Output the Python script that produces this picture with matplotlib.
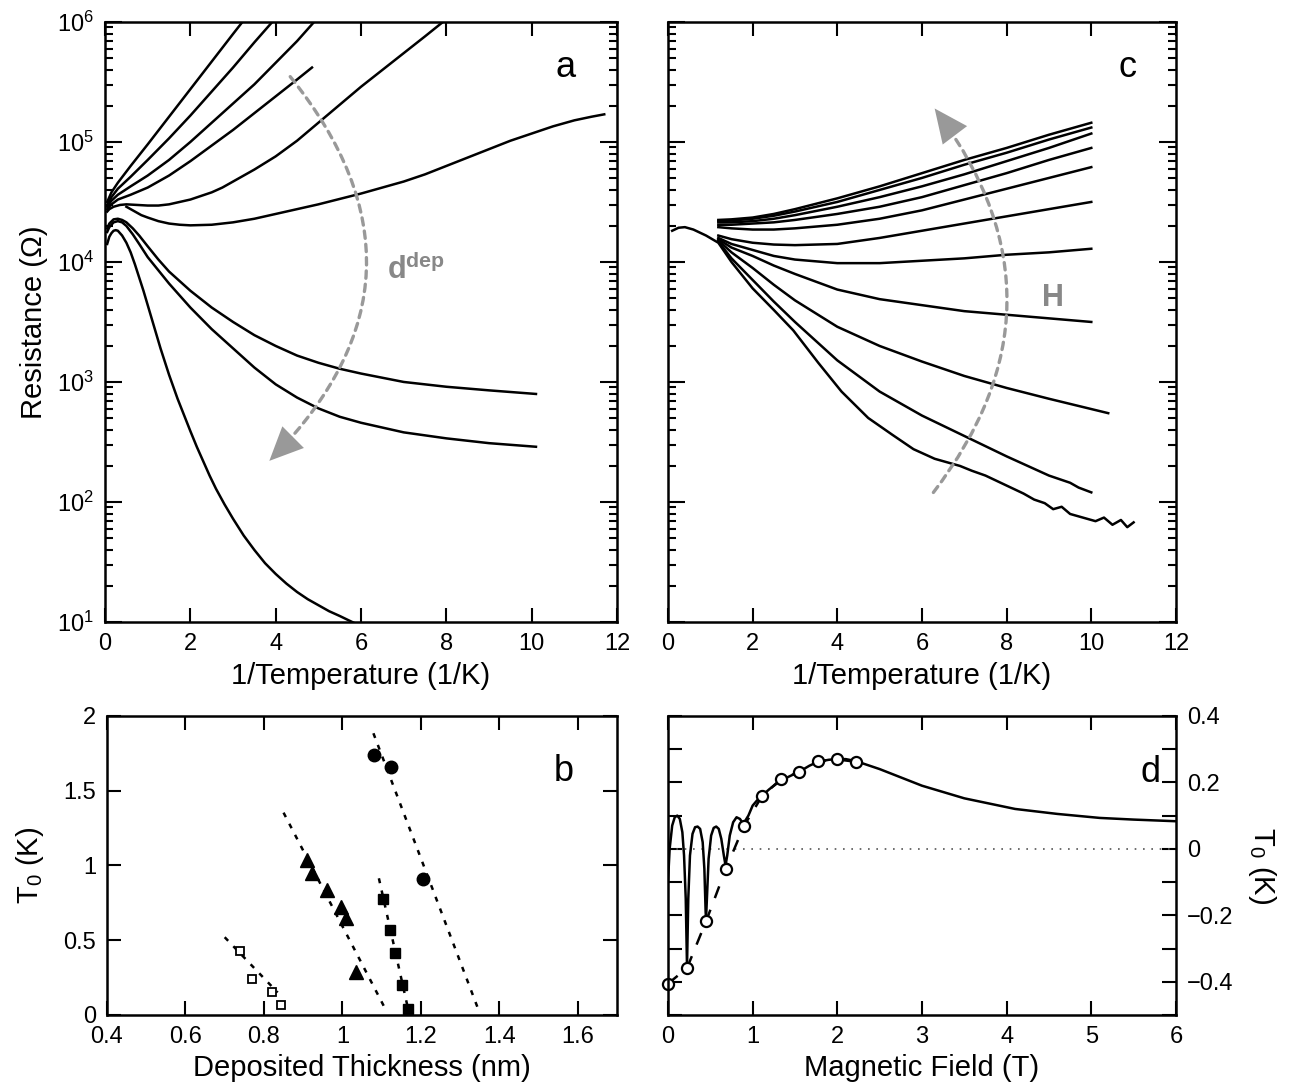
import numpy as np
import matplotlib.pyplot as plt
from matplotlib.ticker import LogLocator, LogFormatterMathtext, NullFormatter, MultipleLocator, FuncFormatter

plt.rcParams['font.family'] = ['Liberation Sans', 'DejaVu Sans']
plt.rcParams['mathtext.fontset'] = 'custom'
plt.rcParams['mathtext.rm'] = 'Liberation Sans'
plt.rcParams['mathtext.bf'] = 'Liberation Sans:bold'

# ---- panel a: R vs 1/T for different deposited thickness (x, log10 R)
a_A_x = [0.05, 0.15, 0.3, 0.6, 1.0, 1.5, 2.0, 2.5, 3.0, 3.22]
a_A_y = [4.50, 4.58, 4.66, 4.80, 4.98, 5.21, 5.44, 5.67, 5.90, 6.0]
a_B_x = [0.05, 0.15, 0.3, 0.6, 1.0, 1.5, 2.0, 2.5, 3.0, 3.5, 3.92]
a_B_y = [4.47, 4.54, 4.61, 4.71, 4.85, 5.03, 5.22, 5.42, 5.62, 5.83, 6.0]
a_C_x = [0.05, 0.15, 0.3, 0.6, 1.0, 1.5, 2.0, 2.5, 3.0, 3.5, 4.0, 4.5, 4.9]
a_C_y = [4.46, 4.51, 4.56, 4.63, 4.72, 4.85, 5.0, 5.16, 5.32, 5.48, 5.66, 5.84, 6.0]
a_D_x = [0.05, 0.15, 0.3, 0.6, 1.0, 1.5, 2.0, 2.5, 3.0, 3.5, 4.0, 4.5, 4.85]
a_D_y = [4.44, 4.48, 4.52, 4.56, 4.62, 4.72, 4.84, 4.97, 5.10, 5.24, 5.38, 5.52, 5.62]
a_E_x = [0.05, 0.1, 0.2, 0.35, 0.5, 0.75, 1.0, 1.25, 1.5, 1.75, 2.0, 2.25, 2.5, 2.75, 3.0, 3.5, 4.0,
         4.5, 5.0, 5.5, 6.0, 6.5, 7.0, 7.5, 7.92]
a_E_y = [4.42, 4.44, 4.46, 4.475, 4.48, 4.475, 4.47, 4.47, 4.48, 4.50, 4.52, 4.55, 4.58, 4.62, 4.67, 4.77, 4.88,
         5.01, 5.16, 5.31, 5.46, 5.60, 5.74, 5.88, 6.0]
a_F_x = [0.5, 0.6, 0.7, 0.85, 1.0, 1.25, 1.5, 1.75, 2.0, 2.5, 3.0, 3.5, 4.0, 4.5, 5.0, 5.5, 6.0, 6.5, 7.0,
         7.5, 8.0, 8.5, 9.0, 9.5, 10.0, 10.5, 11.0, 11.4, 11.7]
a_F_y = [4.46, 4.44, 4.42, 4.39, 4.37, 4.34, 4.32, 4.31, 4.305, 4.31, 4.33, 4.36, 4.40, 4.44, 4.48, 4.525, 4.57,
         4.62, 4.67, 4.73, 4.80, 4.87, 4.94, 5.01, 5.07, 5.13, 5.18, 5.21, 5.23]
a_G_x = [0.05, 0.1, 0.2, 0.3, 0.4, 0.5, 0.65, 0.8, 1.0, 1.25, 1.5, 1.75, 2.0, 2.5, 3.0, 3.5, 4.0, 4.5, 5.0,
         5.5, 6.0, 7.0, 8.0, 9.0, 10.1]
a_G_y = [4.28, 4.32, 4.355, 4.36, 4.35, 4.33, 4.28, 4.22, 4.13, 4.02, 3.92, 3.84, 3.76, 3.62, 3.50, 3.39, 3.30,
         3.22, 3.16, 3.11, 3.07, 3.00, 2.96, 2.93, 2.90]
a_H_x = [0.05, 0.1, 0.2, 0.3, 0.4, 0.5, 0.65, 0.8, 1.0, 1.25, 1.5, 1.75, 2.0, 2.5, 3.0, 3.5, 4.0, 4.5, 5.0,
         5.5, 6.0, 7.0, 8.0, 9.0, 10.1]
a_H_y = [4.25, 4.29, 4.33, 4.34, 4.33, 4.30, 4.23, 4.15, 4.04, 3.93, 3.82, 3.72, 3.62, 3.44, 3.28, 3.12, 2.98,
         2.87, 2.78, 2.71, 2.66, 2.58, 2.53, 2.49, 2.46]
a_J_x = [0.05, 0.1, 0.15, 0.2, 0.25, 0.3, 0.4, 0.5, 0.6, 0.7, 0.8, 0.9, 1.0, 1.1, 1.2, 1.3, 1.4, 1.5, 1.6,
         1.7, 1.8, 1.9, 2.0, 2.15, 2.3, 2.45, 2.6, 2.8, 3.0, 3.25, 3.5, 3.75, 4.0, 4.25, 4.5, 4.75, 5.0,
         5.25, 5.5, 5.85]
a_J_y = [4.15, 4.21, 4.24, 4.26, 4.265, 4.26, 4.22, 4.16, 4.08, 3.98, 3.87, 3.76, 3.64, 3.52, 3.40, 3.28,
         3.17, 3.06, 2.96, 2.86, 2.77, 2.68, 2.59, 2.46, 2.34, 2.22, 2.11, 1.98, 1.86, 1.72, 1.60, 1.49, 1.40,
         1.32, 1.25, 1.19, 1.14, 1.09, 1.05, 0.99]

# ---- panel c: R vs 1/T for different fields (x, log10 R)
c_x = [1.19, 1.5, 2, 2.5, 3, 4, 5, 6, 7, 8, 9, 10]
c_1 = [4.35, 4.355, 4.37, 4.40, 4.44, 4.53, 4.63, 4.74, 4.85, 4.95, 5.06, 5.16]
c_2 = [4.34, 4.345, 4.36, 4.385, 4.42, 4.50, 4.60, 4.70, 4.81, 4.91, 5.02, 5.12]
c_3 = [4.33, 4.33, 4.34, 4.36, 4.39, 4.46, 4.54, 4.63, 4.73, 4.84, 4.95, 5.07]
c_4 = [4.31, 4.31, 4.32, 4.33, 4.35, 4.40, 4.46, 4.54, 4.64, 4.74, 4.85, 4.95]
c_5 = [4.29, 4.28, 4.27, 4.27, 4.28, 4.31, 4.36, 4.43, 4.52, 4.61, 4.70, 4.79]
c_6 = [4.22, 4.19, 4.16, 4.145, 4.14, 4.15, 4.20, 4.26, 4.32, 4.38, 4.44, 4.50]
c_7 = [4.20, 4.15, 4.10, 4.05, 4.02, 3.99, 3.99, 4.01, 4.03, 4.06, 4.08, 4.11]
c_8 = [4.19, 4.12, 4.05, 3.97, 3.90, 3.77, 3.69, 3.64, 3.59, 3.56, 3.53, 3.50]
c_9_x = [1.19, 1.5, 2, 2.5, 3, 4, 5, 6, 7, 8, 9, 10.4]
c_9 = [4.18, 4.08, 3.95, 3.81, 3.68, 3.46, 3.30, 3.17, 3.05, 2.95, 2.86, 2.74]
c_10_x = [1.19, 1.5, 2, 2.5, 3, 3.5, 4, 5, 6, 7, 8, 9, 9.5, 9.7, 9.85, 10.0]
c_10 = [4.17, 4.03, 3.85, 3.67, 3.50, 3.34, 3.18, 2.92, 2.72, 2.55, 2.38, 2.22, 2.16, 2.12, 2.10, 2.08]
c_0_x = [0.1, 0.25, 0.4, 0.6, 0.9, 1.19, 1.5, 2.0, 2.5, 2.96, 3.55, 4.1, 4.73, 5.3, 5.8, 6.3, 6.6, 6.9,
         7.18, 7.5, 7.8, 8.1, 8.4, 8.65, 8.9, 9.1, 9.3, 9.5, 9.7, 9.9, 10.1, 10.3, 10.5, 10.7, 10.85, 11.0]
c_0 = [4.26, 4.285, 4.29, 4.27, 4.22, 4.16, 4.00, 3.78, 3.60, 3.43, 3.16, 2.92, 2.70, 2.56, 2.44, 2.36, 2.33, 2.30,
       2.26, 2.22, 2.17, 2.12, 2.07, 2.02, 1.99, 1.94, 1.96, 1.90, 1.88, 1.86, 1.84, 1.87, 1.81, 1.85, 1.79, 1.83]

# ---- panel b: T0 vs deposited thickness
b_circ_x = [1.08, 1.125, 1.205]
b_circ_y = [1.74, 1.66, 0.91]
b_tri_x = [0.909, 0.922, 0.962, 0.996, 1.010, 1.034]
b_tri_y = [1.037, 0.948, 0.836, 0.720, 0.651, 0.290]
b_sq_x = [1.104, 1.122, 1.135, 1.153, 1.166]
b_sq_y = [0.776, 0.569, 0.417, 0.200, 0.038]
b_osq_x = [0.740, 0.770, 0.821, 0.843]
b_osq_y = [0.428, 0.239, 0.156, 0.067]
b_fit_circ = ([1.079, 1.347], [1.884, 0.033])
b_fit_tri = ([0.85, 1.113], [1.353, 0.022])
b_fit_sq = ([1.093, 1.169], [0.914, 0.022])
b_fit_osq = ([0.70, 0.835], [0.52, 0.15])

# ---- panel d: T0 vs magnetic field
d_H = [0.0, 0.225, 0.453, 0.681, 0.898, 1.11, 1.33, 1.55, 1.77, 2.0, 2.22]
d_T0 = [-0.406, -0.359, -0.216, -0.062, 0.069, 0.158, 0.209, 0.231, 0.264, 0.269, 0.262]
d_line_H = [0.0, 0.02, 0.05, 0.08, 0.11, 0.14, 0.17, 0.19, 0.21, 0.225, 0.24, 0.26, 0.29, 0.32, 0.35, 0.38,
            0.41, 0.43, 0.445, 0.45, 0.46, 0.48, 0.51, 0.54, 0.57, 0.60, 0.63, 0.66, 0.68, 0.70, 0.73, 0.77,
            0.81, 0.85, 0.89, 0.95, 1.0, 1.05, 1.11, 1.2, 1.33, 1.45, 1.55, 1.67, 1.77, 1.9, 2.0, 2.1, 2.22,
            2.5, 3.0, 3.5, 4.1, 4.6, 5.1, 5.5, 6.0]
d_line_T = [-0.10, 0.0, 0.07, 0.095, 0.10, 0.09, 0.05, -0.02, -0.15, -0.355, -0.15, -0.02, 0.045, 0.065, 0.067, 0.06,
            0.02, -0.06, -0.19, -0.21, -0.15, -0.03, 0.04, 0.063, 0.067, 0.06, 0.03, -0.02, -0.05, -0.02, 0.04, 0.08,
            0.095, 0.09, 0.075, 0.10, 0.13, 0.145, 0.16, 0.18, 0.205, 0.22, 0.232, 0.25, 0.262, 0.268, 0.27, 0.27, 0.264,
            0.24, 0.19, 0.152, 0.12, 0.105, 0.093, 0.088, 0.083]

fig = plt.figure(figsize=(12.89, 10.91), dpi=100)
ax_a = fig.add_axes([0.0815, 0.4299, 0.3972, 0.5500])
ax_c = fig.add_axes([0.5182, 0.4299, 0.3941, 0.5500])
ax_b = fig.add_axes([0.0830, 0.0697, 0.3957, 0.2741])
ax_d = fig.add_axes([0.5182, 0.0697, 0.3941, 0.2741])

TICK_FS = 17
LABEL_FS = 21
GRAY = '#999999'


def num_fmt(v, pos):
    if abs(v) < 1e-9:
        return '0'
    return ('%g' % round(v, 3)).replace('-', '\u2212')


def style(ax):
    for s in ax.spines.values():
        s.set_linewidth(1.8)
    ax.tick_params(which='both', direction='in', top=True, right=True, labelsize=TICK_FS, width=1.5)
    ax.tick_params(which='major', length=10, pad=8)
    ax.tick_params(which='minor', length=5)


def log_axis(ax):
    ax.set_yscale('log')
    ax.set_ylim(10, 1e6)
    ax.set_xlim(0, 12)
    ax.xaxis.set_major_locator(MultipleLocator(2))
    ax.yaxis.set_major_locator(LogLocator(base=10, numticks=10))
    ax.yaxis.set_minor_locator(LogLocator(base=10, subs=np.arange(2, 10), numticks=20))
    style(ax)
    ax.tick_params(which='minor', length=6)
    ax.tick_params(axis='y', which='major', length=12)


def dashed_arrow(ax, start, end, rad):
    conn = 'arc3,rad=%g' % rad
    ax.annotate('', xy=end, xytext=start,
                arrowprops=dict(arrowstyle='-', color=GRAY, lw=2.4, linestyle=(0, (2.2, 1.8)),
                                connectionstyle=conn, shrinkA=0, shrinkB=6))
    ax.annotate('', xy=end, xytext=start,
                arrowprops=dict(arrowstyle='-|>,head_length=1.1,head_width=0.5', color=GRAY, lw=0,
                                connectionstyle=conn, shrinkA=0, shrinkB=0, mutation_scale=22))


# panel a
log_axis(ax_a)
for xs, ys in [(a_A_x, a_A_y), (a_B_x, a_B_y), (a_C_x, a_C_y), (a_D_x, a_D_y), (a_E_x, a_E_y),
               (a_F_x, a_F_y), (a_G_x, a_G_y), (a_H_x, a_H_y), (a_J_x, a_J_y)]:
    ax_a.plot(xs, 10 ** np.array(ys), color='black', lw=1.8)
ax_a.yaxis.set_major_formatter(LogFormatterMathtext())
ax_a.set_xlabel('1/Temperature (1/K)', fontsize=LABEL_FS, labelpad=5)
ax_a.set_ylabel('Resistance (Ω)', fontsize=LABEL_FS, labelpad=6)
dashed_arrow(ax_a, (4.34, 3.5e5), (3.85, 2.2e2), -0.45)
ax_a.text(6.6, 8.5e3, r'$\mathbf{d}^{\mathbf{dep}}$', color='#888888', fontsize=22,
          ha='left', va='center')
ax_a.text(10.8, 4.2e5, 'a', fontsize=26, ha='center', va='center')

# panel c
log_axis(ax_c)
for ys in [c_1, c_2, c_3, c_4, c_5, c_6, c_7, c_8]:
    ax_c.plot(c_x, 10 ** np.array(ys), color='black', lw=1.8)
ax_c.plot(c_9_x, 10 ** np.array(c_9), color='black', lw=1.8)
ax_c.plot(c_10_x, 10 ** np.array(c_10), color='black', lw=1.8)
ax_c.plot(c_0_x, 10 ** np.array(c_0), color='black', lw=1.8)
ax_c.yaxis.set_major_formatter(NullFormatter())
ax_c.yaxis.set_minor_formatter(NullFormatter())
ax_c.set_xlabel('1/Temperature (1/K)', fontsize=LABEL_FS, labelpad=5)
dashed_arrow(ax_c, (6.27, 1.2e2), (6.3, 1.9e5), 0.38)
ax_c.text(9.1, 5.0e3, 'H', color='#888888', fontsize=22, fontweight='bold', ha='center', va='center')
ax_c.text(10.85, 4.2e5, 'c', fontsize=26, ha='center', va='center')

# panel b
style(ax_b)
ax_b.set_xlim(0.4, 1.7)
ax_b.set_ylim(0, 2)
ax_b.xaxis.set_major_locator(MultipleLocator(0.2))
ax_b.yaxis.set_major_locator(MultipleLocator(0.5))
ax_b.xaxis.set_major_formatter(FuncFormatter(num_fmt))
ax_b.yaxis.set_major_formatter(FuncFormatter(num_fmt))
for fx, fy in [b_fit_circ, b_fit_tri, b_fit_sq, b_fit_osq]:
    ax_b.plot(fx, fy, color='black', lw=1.8, linestyle=(0, (2, 3)))
ax_b.plot(b_circ_x, b_circ_y, 'o', color='black', ms=9)
ax_b.plot(b_tri_x, b_tri_y, '^', color='black', ms=10.5)
ax_b.plot(b_sq_x, b_sq_y, 's', color='black', ms=6.5)
ax_b.plot(b_osq_x, b_osq_y, 's', mfc='white', mec='black', mew=1.3, ms=6)
ax_b.set_xlabel('Deposited Thickness (nm)', fontsize=LABEL_FS, labelpad=4)
ax_b.set_ylabel('T$_0$ (K)', fontsize=LABEL_FS, labelpad=12)
ax_b.text(1.565, 1.63, 'b', fontsize=26, ha='center', va='center')

# panel d
style(ax_d)
ax_d.set_xlim(0, 6)
ax_d.set_ylim(-0.5, 0.4)
ax_d.xaxis.set_major_locator(MultipleLocator(1))
ax_d.yaxis.set_major_locator(MultipleLocator(0.2))
ax_d.yaxis.set_minor_locator(MultipleLocator(0.1))
ax_d.yaxis.set_major_formatter(FuncFormatter(num_fmt))
ax_d.tick_params(axis='y', which='both', labelleft=False, labelright=True, length=10)
ax_d.axhline(0, color='#555555', lw=1.2, linestyle=(0, (1, 4)))
ax_d.plot(d_H, d_T0, color='black', lw=1.8, linestyle=(0, (5, 5)))
ax_d.plot(d_line_H, d_line_T, color='black', lw=1.8)
ax_d.plot(d_H, d_T0, 'o', mfc='white', mec='black', mew=1.6, ms=8, clip_on=False)
ax_d.set_xlabel('Magnetic Field (T)', fontsize=LABEL_FS, labelpad=4)
ax_d.yaxis.set_label_position('right')
ax_d.set_ylabel('T$_0$ (K)', fontsize=LABEL_FS, rotation=-90, labelpad=32)
ax_d.text(5.7, 0.23, 'd', fontsize=26, ha='center', va='center')

fig.savefig('out.png', dpi=100)
